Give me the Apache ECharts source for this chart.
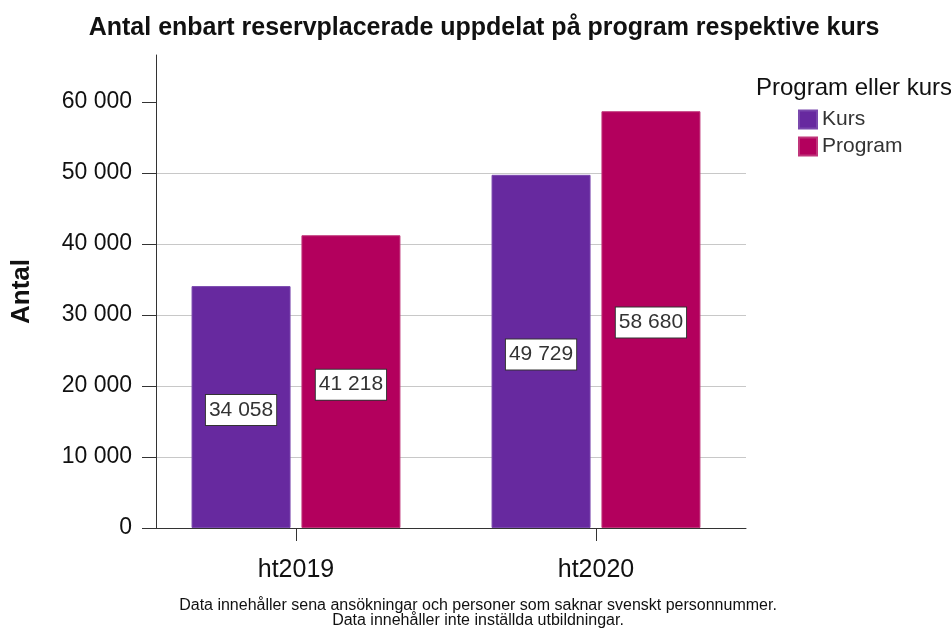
<!DOCTYPE html>
<html>
<head>
<meta charset="utf-8">
<script src="https://cdn.jsdelivr.net/npm/echarts@6/dist/echarts.min.js"></script>
<style>
  html, body { margin: 0; padding: 0; background: #fff; }
  #chart { width: 951px; height: 628px; }
</style>
</head>
<body>
<div id="chart"></div>
<script>
const terms = ['ht2019', 'ht2020']
const kurs = [34058, 49729]
const program = [41218, 58680]
const yTicks = [0, 10000, 20000, 30000, 40000, 50000, 60000]

const fmt = v => String(v).replace(/\B(?=(\d{3})+(?!\d))/g, ' ')
const FONT = 'Liberation Sans, Arial, sans-serif'

const chart = echarts.init(document.getElementById('chart'), null, { renderer: 'canvas' })

const barLabel = {
  show: true,
  position: 'inside',
  offset: [0, 3],
  formatter: p => fmt(p.value),
  fontFamily: FONT,
  fontSize: 21,
  color: '#333',
  backgroundColor: '#fff',
  borderColor: '#333',
  borderWidth: 1,
  padding: [5, 3, 4, 3],
}

chart.setOption({
  animation: false,
  textStyle: { fontFamily: FONT },
  title: [
    {
      text: 'Antal enbart reservplacerade uppdelat på program respektive kurs',
      left: 479,
      top: 11,
      textAlign: 'center',
      textStyle: { fontSize: 25, fontWeight: 'bold', color: '#111', fontFamily: FONT },
    },
    {
      text: 'Program eller kurs',
      left: 751,
      top: 71,
      textStyle: { fontSize: 24, fontWeight: 'normal', color: '#111', fontFamily: FONT },
    },
  ],
  legend: {
    orient: 'vertical',
    left: 793,
    top: 104,
    icon: 'rect',
    itemWidth: 18,
    itemHeight: 18,
    itemGap: 6,
    textStyle: { fontSize: 21, color: '#333', fontFamily: FONT },
    data: ['Kurs', 'Program'],
  },
  grid: { left: 146, right: 205, top: 55, bottom: 100, containLabel: false },
  xAxis: {
    type: 'category',
    data: terms,
    axisLine: { show: true, lineStyle: { color: '#333', width: 1 } },
    axisTick: { show: true, alignWithLabel: true, length: 13, lineStyle: { color: '#333' } },
    axisLabel: { fontSize: 25, color: '#111', margin: 30, fontFamily: FONT },
  },
  yAxis: {
    type: 'value',
    min: 0,
    max: 66600,
    interval: 10000,
    offset: -10,
    name: 'Antal',
    nameLocation: 'middle',
    nameGap: 121,
    nameRotate: 90,
    nameTextStyle: { fontSize: 26, fontWeight: 'bold', color: '#111', fontFamily: FONT },
    axisLine: { show: true, lineStyle: { color: '#333', width: 1 } },
    axisTick: { show: true, length: 14, customValues: yTicks, lineStyle: { color: '#333' } },
    axisLabel: {
      customValues: yTicks,
      fontSize: 23,
      color: '#111',
      margin: 24,
      formatter: v => fmt(v),
      fontFamily: FONT,
    },
    splitLine: { show: true, showMaxLine: false, lineStyle: { color: '#c8c8c8', width: 1 } },
  },
  series: [
    {
      name: 'Kurs',
      type: 'bar',
      data: kurs,
      barWidth: 99,
      barGap: '11%',
      itemStyle: { color: '#67299f', borderColor: '#7a48ad', borderWidth: 1 },
      label: barLabel,
    },
    {
      name: 'Program',
      type: 'bar',
      data: program,
      barWidth: 99,
      barGap: '11%',
      itemStyle: { color: '#b3005d', borderColor: '#c0357a', borderWidth: 1 },
      label: barLabel,
    },
  ],
  graphic: [
    {
      type: 'text',
      x: 478,
      y: 598,
      style: {
        text: 'Data innehåller sena ansökningar och personer som saknar svenskt personnummer.\nData innehåller inte inställda utbildningar.',
        align: 'center',
        font: '16px "Liberation Sans", Arial, sans-serif',
        lineHeight: 15,
        fill: '#111',
      },
    },
  ],
})
</script>
</body>
</html>
